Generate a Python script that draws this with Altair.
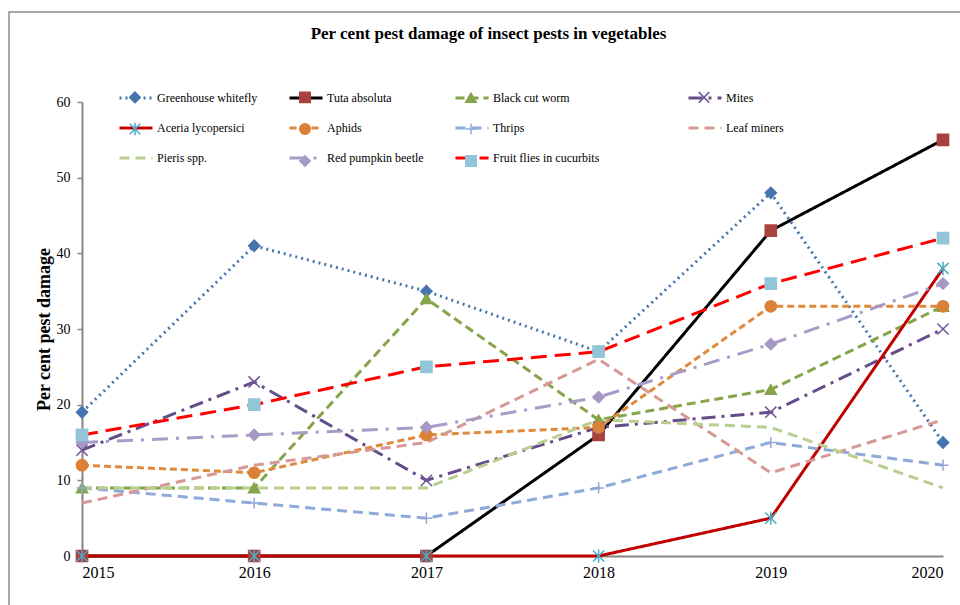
import altair as alt
import pandas as pd

years = [2015, 2016, 2017, 2018, 2019, 2020]
series = ["Greenhouse whitefly", "Tuta absoluta", "Black cut worm", "Mites",
          "Aceria lycopersici", "Aphids", "Thrips", "Leaf miners",
          "Pieris spp.", "Red pumpkin beetle", "Fruit flies in cucurbits"]

greenhouse_whitefly = [19, 41, 35, 27, 48, 15]
tuta_absoluta = [0, 0, 0, 16, 43, 55]
black_cut_worm = [9, 9, 34, 18, 22, 33]
mites = [14, 23, 10, 17, 19, 30]
aceria_lycopersici = [0, 0, 0, 0, 5, 38]
aphids = [12, 11, 16, 17, 33, 33]
thrips = [9, 7, 5, 9, 15, 12]
leaf_miners = [7, 12, 15, 26, 11, 18]
pieris_spp = [9, 9, 9, 18, 17, 9]
red_pumpkin_beetle = [15, 16, 17, 21, 28, 36]
fruit_flies = [16, 20, 25, 27, 36, 42]

all_values = [greenhouse_whitefly, tuta_absoluta, black_cut_worm, mites,
              aceria_lycopersici, aphids, thrips, leaf_miners, pieris_spp,
              red_pumpkin_beetle, fruit_flies]

line_colors = ["#4674AD", "#000000", "#86A44A", "#644D8A", "#C00000", "#E0893C",
               "#8FA9D8", "#D69996", "#B8CF90", "#A89BC7", "#FF0000"]
marker_colors = ["#4674AD", "#A8423F", "#86A44A", "#6F5597", "#4BACC6", "#DA8137",
                 "#8FA9D8", "transparent", "transparent", "#A598C4", "#93C5D8"]
dashes = [[2, 4], [1, 0], [9, 5], [14, 6, 3, 6], [1, 0], [7, 4], [10, 6],
          [10, 6], [10, 6], [16, 8, 3, 8], [16, 8]]
shapes = ["diamond", "square", "triangle-up", "M-1,-1L1,1M-1,1L1,-1",
          "M-1,-1L1,1M-1,1L1,-1M0,-1.2L0,1.2", "circle", "M-1,0L1,0M0,-1L0,1",
          "M0,0", "M0,0", "diamond", "square"]

markers = ["m:" + s for s in series]

rows = []
for name, mk, vals in zip(series, markers, all_values):
    for yr, v in zip(years, vals):
        rows.append({"Year": yr, "Series": name, "Marker": mk, "Value": v})
df = pd.DataFrame(rows)

FONT = "Liberation Serif"
GRAY = "#868686"

x_enc = alt.X("Year:Q", scale=alt.Scale(domain=[2015, 2020], nice=False, zero=False),
              axis=alt.Axis(values=years, format="d", ticks=False, title=None,
                            labelFont=FONT, labelFontSize=16, labelColor="black",
                            labelPadding=8, domainColor=GRAY, domainWidth=2,
                            grid=False, labelOverlap=False))
y_enc = alt.Y("Value:Q", scale=alt.Scale(domain=[0, 60], nice=False),
              axis=alt.Axis(values=[0, 10, 20, 30, 40, 50, 60],
                            title="Per cent pest damage", titleFont=FONT,
                            titleFontSize=18, titleFontWeight="bold",
                            titleColor="black", titlePadding=3,
                            labelFont=FONT, labelFontSize=14, labelColor="black",
                            labelPadding=7, tickColor=GRAY, tickSize=5, tickWidth=1.5,
                            domainColor=GRAY, domainWidth=2, grid=False))

# invisible padding so the third legend column is as wide as in the reference
PAD = "\u2003\u2003\u2003\u2003\u2800"
legend_common = dict(title=None, orient="none", direction="horizontal", columns=4,
                     labelFont=FONT, labelFontSize=12, labelOffset=3,
                     gridAlign="each", padding=0, labelLimit=400)

line_legend = alt.Legend(legendX=36, legendY=-22, symbolType="stroke",
                         symbolSize=1089, symbolStrokeWidth=3, labelColor="black",
                         columnPadding=25, rowPadding=6,
                         labelExpr="datum.label == 'Fruit flies in cucurbits' ? datum.label + '" + PAD + "' : datum.label",
                         **legend_common)
point_legend = alt.Legend(legendX=36 + 11, legendY=-11, symbolSize=110,
                          symbolStrokeWidth=1.5, symbolOpacity=1,
                          labelColor="transparent", columnPadding=25 + 26, rowPadding=13,
                          labelExpr="slice(datum.label, 2) == 'Fruit flies in cucurbits' ? slice(datum.label, 2) + '" + PAD + "' : slice(datum.label, 2)",
                          **legend_common)

frame = alt.Chart(pd.DataFrame({"a": [0]})).mark_rect(
    fill="transparent", stroke="#8c8c8c", strokeWidth=1.5
).encode(x=alt.value(-73), x2=alt.value(1000), y=alt.value(-90), y2=alt.value(700))

lines = alt.Chart(df).mark_line(strokeWidth=3).encode(
    x=x_enc, y=y_enc,
    color=alt.Color("Series:N", scale=alt.Scale(domain=series, range=line_colors),
                    legend=line_legend),
    strokeDash=alt.StrokeDash("Series:N", scale=alt.Scale(domain=series, range=dashes),
                              legend=line_legend),
)

points = alt.Chart(df).mark_point(filled=True, size=125, strokeWidth=1.5, opacity=1).encode(
    x=x_enc, y=y_enc,
    fill=alt.Fill("Marker:N", scale=alt.Scale(domain=markers, range=marker_colors),
                  legend=point_legend),
    stroke=alt.Stroke("Marker:N", scale=alt.Scale(domain=markers, range=marker_colors),
                      legend=point_legend),
    shape=alt.Shape("Marker:N", scale=alt.Scale(domain=markers, range=shapes),
                    legend=point_legend),
)

chart = alt.layer(frame, lines, points).properties(
    width=861, height=454,
    title=alt.TitleParams("Per cent pest damage of insect pests in vegetables",
                          font=FONT, fontSize=17, fontWeight="bold", color="black",
                          anchor="middle", frame="group", dx=-24, offset=0, dy=32),
    autosize=alt.AutoSizeParams(type="none"),
    padding={"left": 82, "top": 102, "right": 17, "bottom": 49},
    background="white",
).configure_view(stroke=None)

chart.save("out.html", embed_options={"renderer": "svg", "actions": False})
